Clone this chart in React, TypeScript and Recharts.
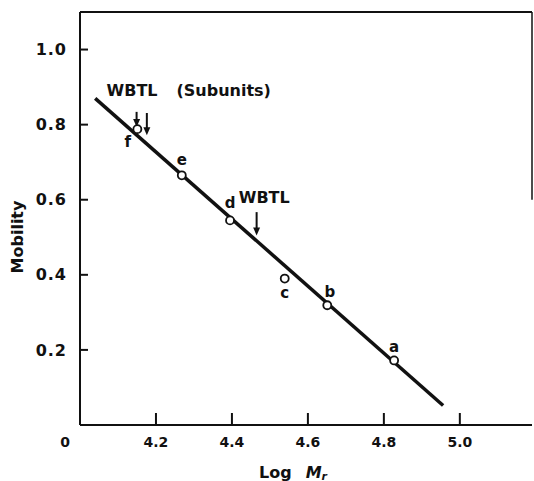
import React from "react";
import {
  ComposedChart,
  Line,
  Scatter,
  XAxis,
  YAxis,
  ReferenceLine,
  ReferenceDot,
} from "recharts";

// axes
const xTicks = [4.2, 4.4, 4.6, 4.8, 5.0];
const yTicks = [0.2, 0.4, 0.6, 0.8, 1.0];

// marker proteins (log Mr vs mobility)
const proteins = ["f", "e", "d", "c", "b", "a"];
const logMr = [4.151, 4.268, 4.395, 4.539, 4.651, 4.827];
const mobility = [0.788, 0.665, 0.545, 0.39, 0.319, 0.172];

// fitted line end points
const fitX = [4.04, 4.956];
const fitY = [0.87, 0.052];

// letter label anchors
const letterX = [4.126, 4.268, 4.395, 4.539, 4.658, 4.827];
const letterY = [0.754, 0.705, 0.591, 0.351, 0.353, 0.209];

// WBTL arrows
const arrowX = [4.149, 4.176, 4.465];
const arrowFrom = [0.834, 0.831, 0.567];
const arrowTo = [0.794, 0.772, 0.505];

// text notes
const noteText = ["WBTL", "(Subunits)", "WBTL"];
const noteX = [4.07, 4.254, 4.418];
const noteY = [0.89, 0.89, 0.607];

const ink = "#111";
const font = "'DejaVu Sans', sans-serif";

const points = logMr.map((x, i) => ({ x, y: mobility[i], name: proteins[i] }));
const fit = fitX.map((x, i) => ({ x, y: fitY[i] }));

function Arrow(props: any) {
  const { x1, y1, x2, y2 } = props;
  return (
    <g>
      <line x1={x1} y1={y1} x2={x2} y2={y2 - 5} stroke={ink} strokeWidth={2} />
      <polygon points={`${x2 - 3.5},${y2 - 8} ${x2 + 3.5},${y2 - 8} ${x2},${y2}`} fill={ink} />
    </g>
  );
}

// inward tick marks, drawn in data units
function TickMark(props: any) {
  const { x1, y1, x2, y2 } = props;
  return <line x1={x1} y1={y1} x2={x2} y2={y2} stroke={ink} strokeWidth={2} />;
}

export default function App() {
  return (
    <div style={{ position: "absolute", left: 0, top: 0, background: "#fff" }}>
      <ComposedChart width={534} height={481} margin={{ top: 12, right: 2, bottom: 26, left: 0 }}>
        <XAxis
          type="number"
          dataKey="x"
          domain={[4.0, 5.19]}
          allowDataOverflow
          ticks={xTicks}
          tickFormatter={(v: number) => v.toFixed(1)}
          tick={{ fontFamily: font, fontWeight: "bold", fontSize: 14, fill: ink }}
          tickLine={false}
          tickSize={0}
          tickMargin={12}
          height={30}
          axisLine={{ stroke: ink, strokeWidth: 2 }}
          label={(p: any) => {
            const vb = p.viewBox;
            return (
              <text x={vb.x + 179} y={vb.y + 47} dominantBaseline="central"
                fontFamily={font} fontWeight="bold" fontSize={16} fill={ink}>
                <tspan>Log</tspan>
                <tspan dx={14} fontStyle="italic">M</tspan>
                <tspan dy={4} fontSize={11} fontStyle="italic">r</tspan>
              </text>
            );
          }}
        />
        <YAxis
          type="number"
          domain={[0, 1.1]}
          allowDataOverflow
          ticks={yTicks}
          tickFormatter={(v: number) => v.toFixed(1)}
          tick={{ fontFamily: font, fontWeight: "bold", fontSize: 16, fill: ink, letterSpacing: 1 }}
          tickLine={false}
          tickSize={0}
          tickMargin={13}
          width={80}
          axisLine={{ stroke: ink, strokeWidth: 2 }}
          label={(p: any) => {
            const vb = p.viewBox;
            const cx = vb.x + 17;
            const cy = vb.y + 225;
            return (
              <text x={cx} y={cy} transform={`rotate(-90 ${cx} ${cy})`} textAnchor="middle"
                dominantBaseline="central" fontFamily={font} fontWeight="bold" fontSize={16} fill={ink}>
                Mobility
              </text>
            );
          }}
        />
        {/* frame: top and partial right border */}
        <ReferenceLine y={1.1} stroke={ink} strokeWidth={2} ifOverflow="visible" />
        <ReferenceLine segment={[{ x: 5.19, y: 0.6 }, { x: 5.19, y: 1.1 }]} stroke={ink} strokeWidth={1.5}
          ifOverflow="visible" />

        {/* inward ticks */}
        {xTicks.map((t) => (
          <ReferenceLine key={"xt" + t} segment={[{ x: t, y: 0 }, { x: t, y: 0.032 }]}
            shape={<TickMark />} ifOverflow="visible" />
        ))}
        {yTicks.map((t) => (
          <ReferenceLine key={"yt" + t} segment={[{ x: 4.0, y: t }, { x: 4.021, y: t }]}
            shape={<TickMark />} ifOverflow="visible" />
        ))}

        {/* origin label */}
        <ReferenceDot x={4.0} y={0} r={0} ifOverflow="visible"
          shape={(p: any) => (
            <text x={p.cx - 15} y={p.cy + 17} textAnchor="middle" dominantBaseline="central"
              fontFamily={font} fontWeight="bold" fontSize={14} fill={ink}>0</text>
          )} />

        <Line data={fit} dataKey="y" type="linear" stroke={ink} strokeWidth={3.5} dot={false}
          isAnimationActive={false} />
        <Scatter
          data={points}
          dataKey="y"
          isAnimationActive={false}
          shape={(p: any) => (
            <circle cx={p.cx} cy={p.cy} r={4} fill="#fff" stroke={ink} strokeWidth={1.8} />
          )}
        />

        {arrowX.map((x, i) => (
          <ReferenceLine key={"ar" + i} segment={[{ x, y: arrowFrom[i] }, { x, y: arrowTo[i] }]}
            shape={<Arrow />} />
        ))}

        {proteins.map((t, i) => (
          <ReferenceDot key={"lb" + i} x={letterX[i]} y={letterY[i]} r={0}
            shape={(p: any) => (
              <text x={p.cx} y={p.cy} textAnchor="middle" dominantBaseline="central"
                fontFamily={font} fontWeight="bold" fontSize={15} fill={ink}>{t}</text>
            )} />
        ))}

        {noteText.map((t, i) => (
          <ReferenceDot key={"nt" + i} x={noteX[i]} y={noteY[i]} r={0}
            shape={(p: any) => (
              <text x={p.cx} y={p.cy} textAnchor="start" dominantBaseline="central"
                fontFamily={font} fontWeight="bold" fontSize={16} fill={ink}>{t}</text>
            )} />
        ))}
      </ComposedChart>
    </div>
  );
}
